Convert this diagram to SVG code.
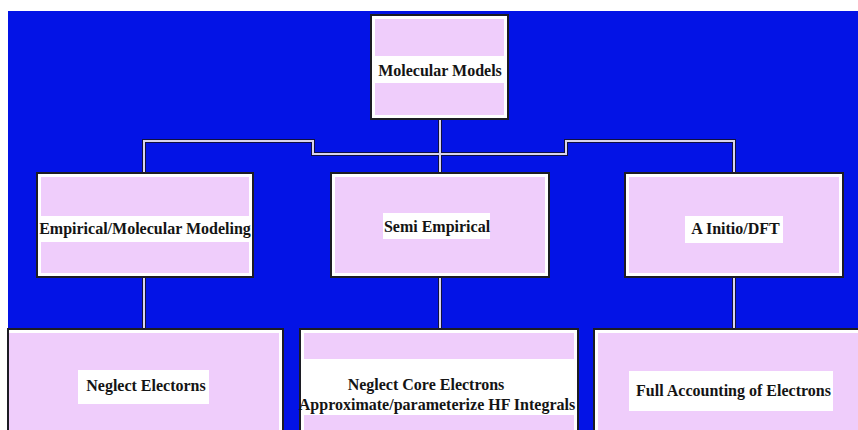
<svg xmlns="http://www.w3.org/2000/svg" width="858" height="430" viewBox="0 0 858 430">
<style>
.box{fill:#ffffff;stroke:#1c1c24;stroke-width:2}
.inner{fill:#efcdfb}
.band{fill:#ffffff}
.t{font-family:"Liberation Serif","Times New Roman",serif;font-weight:bold;font-size:16px;fill:#141414;text-anchor:middle}
.cd{fill:none;stroke:#101040;stroke-width:4}
.cl{fill:none;stroke:#d8d4ec;stroke-width:2}
</style>
<rect x="0" y="0" width="858" height="430" fill="#ffffff"/>
<rect x="8" y="11" width="850" height="419" fill="#0313e6"/>
<g id="connectors">
<path class="cd" d="M440 119V173M144 173V141H313V154H566V141H734V173M144 277V329M440 277V329M734 277V329"/>
<path class="cl" d="M440 119V173M144 173V141H313V154H566V141H734V173M144 277V329M440 277V329M734 277V329"/>
</g>
<g id="molecular-models">
<rect class="box" x="371" y="15" width="137" height="104"/>
<rect class="inner" x="375" y="19" width="129" height="96"/>
<rect class="band" x="372" y="56" width="135" height="27"/>
<text class="t" x="440" y="76">Molecular Models</text>
</g>
<g id="empirical">
<rect class="box" x="37" y="173" width="216" height="104"/>
<rect class="inner" x="41" y="177" width="208" height="96"/>
<rect class="band" x="38" y="216" width="214" height="26"/>
<text class="t" x="145" y="234">Empirical/Molecular Modeling</text>
</g>
<g id="semi-empirical">
<rect class="box" x="331" y="173" width="218" height="104"/>
<rect class="inner" x="335" y="177" width="210" height="96"/>
<rect class="band" x="383" y="213" width="107" height="26"/>
<text class="t" x="437" y="232">Semi Empirical</text>
</g>
<g id="ab-initio">
<rect class="box" x="625" y="173" width="218" height="104"/>
<rect class="inner" x="629" y="177" width="210" height="96"/>
<rect class="band" x="685" y="216" width="98" height="27"/>
<text class="t" x="735.5" y="234">A Initio/DFT</text>
</g>
<g id="neglect-electrons">
<rect class="box" x="8" y="329" width="275" height="120"/>
<rect class="inner" x="9" y="333" width="270" height="110"/>
<rect class="band" x="78" y="370" width="131" height="34"/>
<text class="t" x="146" y="391">Neglect Electorns</text>
</g>
<g id="neglect-core">
<rect class="box" x="300" y="329" width="278" height="120"/>
<rect class="inner" x="304" y="333" width="270" height="110"/>
<rect class="band" x="301" y="359" width="275" height="56"/>
<text class="t" x="426" y="390">Neglect Core Electrons</text>
<text class="t" x="437" y="410">Approximate/parameterize HF Integrals</text>
</g>
<g id="full-accounting">
<rect class="box" x="594" y="329" width="280" height="120"/>
<rect class="inner" x="598" y="333" width="272" height="110"/>
<rect class="band" x="629" y="371" width="204" height="40"/>
<text class="t" x="733.5" y="396">Full Accounting of Electrons</text>
</g>
</svg>
